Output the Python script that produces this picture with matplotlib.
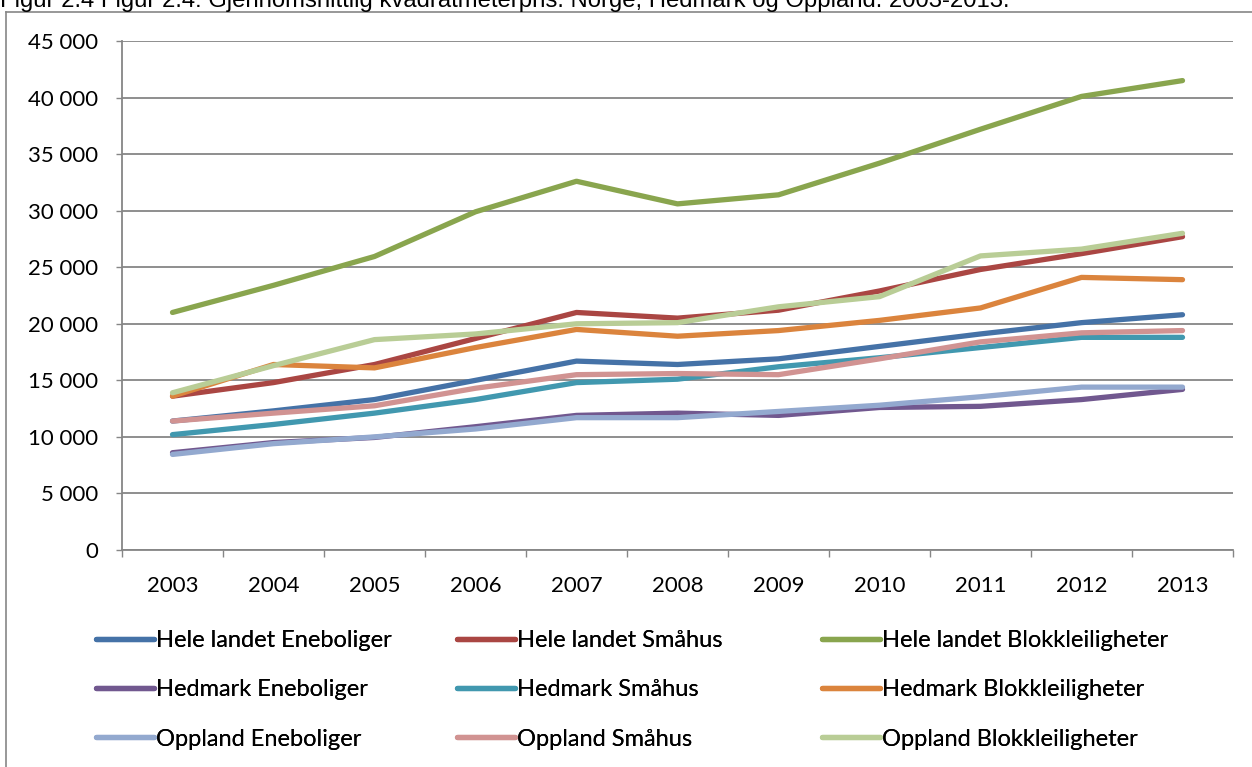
import matplotlib
matplotlib.use("Agg")
import matplotlib.pyplot as plt
from matplotlib.lines import Line2D
from matplotlib.ticker import FuncFormatter, FixedLocator


# ------------------------------------------------------------
# Data (kr per m2)
# ------------------------------------------------------------

YEARS = [2003, 2004, 2005, 2006, 2007, 2008, 2009, 2010, 2011, 2012, 2013]

HELE_ENEBOLIGER = [11400, 12300, 13300, 15000, 16700, 16400, 16900, 18000, 19100, 20100, 20800]
HELE_SMAHUS = [13600, 14800, 16400, 18700, 21000, 20500, 21200, 22900, 24800, 26200, 27700]
HELE_BLOKK = [21000, 23400, 25950, 29900, 32600, 30600, 31400, 34200, 37200, 40100, 41500]
HEDMARK_ENEBOLIGER = [8600, 9500, 9950, 10900, 11900, 12100, 11900, 12600, 12700, 13300, 14200]
HEDMARK_SMAHUS = [10200, 11100, 12100, 13300, 14800, 15100, 16200, 17000, 17900, 18800, 18800]
HEDMARK_BLOKK = [13600, 16400, 16100, 17900, 19500, 18900, 19400, 20300, 21400, 24100, 23900]
OPPLAND_ENEBOLIGER = [8450, 9400, 10000, 10700, 11700, 11700, 12250, 12800, 13550, 14400, 14400]
OPPLAND_SMAHUS = [11400, 12100, 12750, 14300, 15500, 15600, 15500, 16900, 18400, 19200, 19400]
OPPLAND_BLOKK = [13900, 16300, 18600, 19100, 20000, 20100, 21500, 22400, 26000, 26600, 28000]

SERIES_NAMES = [
    "Hele landet Eneboliger", "Hele landet Småhus", "Hele landet Blokkleiligheter",
    "Hedmark Eneboliger", "Hedmark Småhus", "Hedmark Blokkleiligheter",
    "Oppland Eneboliger", "Oppland Småhus", "Oppland Blokkleiligheter",
]
SERIES_VALUES = [
    HELE_ENEBOLIGER, HELE_SMAHUS, HELE_BLOKK,
    HEDMARK_ENEBOLIGER, HEDMARK_SMAHUS, HEDMARK_BLOKK,
    OPPLAND_ENEBOLIGER, OPPLAND_SMAHUS, OPPLAND_BLOKK,
]
SERIES_COLORS = [
    "#4572A7", "#AA4643", "#89A54E",
    "#71588F", "#4198AF", "#DB843D",
    "#93A9CF", "#D19392", "#B9CD96",
]

TITLE = ("Figur 2.4 Figur 2.4: Gjennomsnittlig kvadratmeterpris. "
         "Norge, Hedmark og Oppland. 2003-2013.")

Y_TICKS = [0, 5000, 10000, 15000, 20000, 25000, 30000, 35000, 40000, 45000]

GRID_COLOR = "#868686"
FONT = ["Lato", "DejaVu Sans"]
TICK_SIZE = 16
LEGEND_SIZE = 17


# ------------------------------------------------------------
# Plot
# ------------------------------------------------------------

W, H = 1252, 767
fig = plt.figure(figsize=(W / 100, H / 100), dpi=100)
ax = fig.add_axes([122 / W, 1 - 550 / H, (1233 - 122) / W, (550 - 41) / H])

x_pos = list(range(len(YEARS)))
lines = []
for name, values, color in zip(SERIES_NAMES, SERIES_VALUES, SERIES_COLORS):
    (ln,) = ax.plot(x_pos, values, color=color, linewidth=3.8,
                    solid_capstyle="round", solid_joinstyle="round",
                    label=name)
    lines.append(ln)

ax.set_xlim(-0.5, len(YEARS) - 0.5)
ax.set_ylim(0, 45000)

# y axis
ax.set_yticks(Y_TICKS)
ax.yaxis.set_major_formatter(
    FuncFormatter(lambda v, _: f"{int(v):,}".replace(",", " "))
)
ax.yaxis.grid(True, color=GRID_COLOR, linewidth=1.3)
ax.set_axisbelow(True)
ax.tick_params(axis="y", length=4.5, width=1, color=GRID_COLOR,
               pad=12.5, labelsize=TICK_SIZE)

# x axis: ticks between categories, labels at centers
ax.xaxis.set_major_locator(FixedLocator([i - 0.5 for i in range(len(YEARS) + 1)]))
ax.xaxis.set_minor_locator(FixedLocator(x_pos))
ax.tick_params(axis="x", which="major", length=5, width=1,
               color=GRID_COLOR, labelbottom=False)
ax.tick_params(axis="x", which="minor", length=0, pad=18.5, labelsize=TICK_SIZE)
ax.set_xticklabels([str(y) for y in YEARS], minor=True)

for lab in ax.get_xticklabels(minor=True) + ax.get_yticklabels():
    lab.set_family(FONT)

for side in ["top", "right"]:
    ax.spines[side].set_visible(False)
for side in ["left", "bottom"]:
    ax.spines[side].set_color(GRID_COLOR)
    ax.spines[side].set_linewidth(1.3)

# legend: three fixed-width columns, filled row by row
col_x = [96, 457, 822]
for c in range(3):
    handles = [lines[c + 3 * r] for r in range(3)]
    labels = [SERIES_NAMES[c + 3 * r] for r in range(3)]
    leg = fig.legend(
        handles, labels,
        loc="upper left",
        bbox_to_anchor=(col_x[c] / W, 1 - 630 / H),
        frameon=False,
        prop={"family": FONT, "size": LEGEND_SIZE},
        handlelength=2.45,
        handletextpad=0.08,
        labelspacing=1.2,
        borderpad=0,
        borderaxespad=0,
    )
    fig.add_artist(leg)

# chart area border (clipped by the image on right and bottom)
fig.add_artist(Line2D([6 / W, 1.0], [1 - 11.5 / H, 1 - 11.5 / H],
                      color=GRID_COLOR, linewidth=1.2))
fig.add_artist(Line2D([6 / W, 6 / W], [1 - 11.5 / H, 0.0],
                      color=GRID_COLOR, linewidth=1.2))

# title, cut by the top of the image as in the source
fig.text(0, 1 - 6.5 / H, TITLE, ha="left", va="baseline",
         family=["Liberation Sans", "DejaVu Sans"], fontsize=17.2)

fig.savefig("out.png", dpi=100)
